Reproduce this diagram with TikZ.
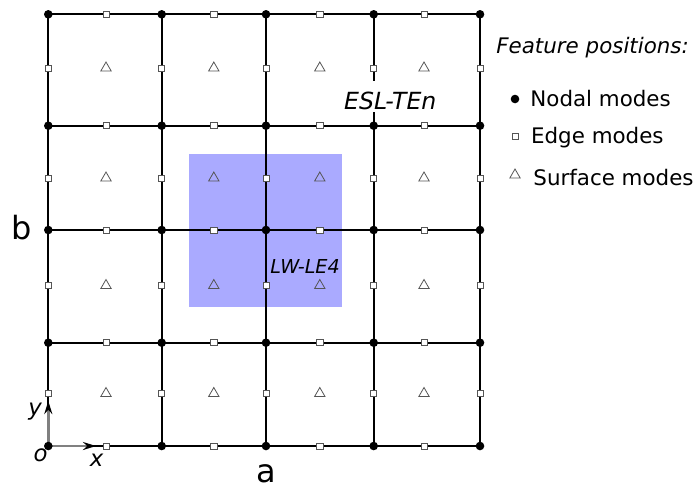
\documentclass[tikz,border=0pt]{standalone}
\usepackage{fontspec}
\setmainfont{DejaVu Sans}
\usetikzlibrary{shapes,arrows.meta}
\definecolor{lwblue}{RGB}{170,170,255}
\definecolor{markgray}{RGB}{85,85,85}

\begin{document}
\begin{tikzpicture}[x=0.5pt,y=-0.5pt]
	\tikzstyle{every node}=[inner sep=0pt]
	\tikzstyle{gridline}=[line width=0.9pt, black]
	\tikzstyle{nodemode}=[circle, fill=black, minimum size=4.3pt]
	\tikzstyle{edgemode}=[rectangle, draw=markgray, fill=white, line width=0.4pt, minimum size=3.1pt]
	\tikzstyle{surfmode}=[regular polygon, regular polygon sides=3, draw=markgray, line width=0.4pt, minimum size=6pt]
	\tikzstyle{axisarrow}=[line width=1.4pt, gray, -{Stealth[black,length=6.5pt,width=4pt]}]
	\tikzstyle{keytext}=[anchor=base west, font=\fontsize{10.7}{12}\selectfont]
	\tikzstyle{sidetext}=[anchor=base, font=\fontsize{16}{18}\selectfont]
	\tikzstyle{axistext}=[anchor=base, font=\fontsize{11.4}{13}\itshape]

	\useasboundingbox (0,0) rectangle (694,489);

	%% grid points
	\coordinate (g00) at (48.3,446.0);
	\coordinate (g10) at (161.7,446.0);
	\coordinate (g20) at (266.0,446.0);
	\coordinate (g30) at (373.7,446.0);
	\coordinate (g40) at (480.0,446.0);
	\coordinate (g01) at (48.3,342.7);
	\coordinate (g11) at (161.7,342.7);
	\coordinate (g21) at (266.0,342.7);
	\coordinate (g31) at (373.7,342.7);
	\coordinate (g41) at (480.0,342.7);
	\coordinate (g02) at (48.3,230.0);
	\coordinate (g12) at (161.7,230.0);
	\coordinate (g22) at (266.0,230.0);
	\coordinate (g32) at (373.7,230.0);
	\coordinate (g42) at (480.0,230.0);
	\coordinate (g03) at (48.3,125.7);
	\coordinate (g13) at (161.7,125.7);
	\coordinate (g23) at (266.0,125.7);
	\coordinate (g33) at (373.7,125.7);
	\coordinate (g43) at (480.0,125.7);
	\coordinate (g04) at (48.3,14.3);
	\coordinate (g14) at (161.7,14.3);
	\coordinate (g24) at (266.0,14.3);
	\coordinate (g34) at (373.7,14.3);
	\coordinate (g44) at (480.0,14.3);

	%% LW-LE4 patch
	\fill [lwblue] (189.0,154.0) rectangle (342.0,306.7);

	%% ESL-TEn grid
	\draw [gridline] (g00) -- (g10) -- (g20) -- (g30) -- (g40);
	\draw [gridline] (g01) -- (g11) -- (g21) -- (g31) -- (g41);
	\draw [gridline] (g02) -- (g12) -- (g22) -- (g32) -- (g42);
	\draw [gridline] (g03) -- (g13) -- (g23) -- (g33) -- (g43);
	\draw [gridline] (g04) -- (g14) -- (g24) -- (g34) -- (g44);
	\draw [gridline] (g00) -- (g01) -- (g02) -- (g03) -- (g04);
	\draw [gridline] (g10) -- (g11) -- (g12) -- (g13) -- (g14);
	\draw [gridline] (g20) -- (g21) -- (g22) -- (g23) -- (g24);
	\draw [gridline] (g30) -- (g31) -- (g32) -- (g33) -- (g34);
	\draw [gridline] (g40) -- (g41) -- (g42) -- (g43) -- (g44);

	%% axes
	\coordinate (xtip) at (96.0,446.0);
	\coordinate (ytip) at (48.3,401.0);
	\draw [axisarrow] (g00) -- (xtip);
	\draw [axisarrow] (g00) -- (ytip);

	%% surface modes
	\node [surfmode] (s00) at (106.0,393.5) {};
	\node [surfmode] (s10) at (213.8,393.5) {};
	\node [surfmode] (s20) at (319.8,393.5) {};
	\node [surfmode] (s30) at (424.0,393.5) {};
	\node [surfmode] (s01) at (106.0,285.5) {};
	\node [surfmode] (s11) at (213.8,285.5) {};
	\node [surfmode] (s21) at (319.8,285.5) {};
	\node [surfmode] (s31) at (424.0,285.5) {};
	\node [surfmode] (s02) at (106.0,178.0) {};
	\node [surfmode] (s12) at (213.8,178.0) {};
	\node [surfmode] (s22) at (319.8,178.0) {};
	\node [surfmode] (s32) at (424.0,178.0) {};
	\node [surfmode] (s03) at (106.0,68.0) {};
	\node [surfmode] (s13) at (213.8,68.0) {};
	\node [surfmode] (s23) at (319.8,68.0) {};
	\node [surfmode] (s33) at (424.0,68.0) {};

	%% edge modes, horizontal edges
	\node [edgemode] (h00) at (106.0,446.0) {};
	\node [edgemode] (h10) at (213.8,446.0) {};
	\node [edgemode] (h20) at (319.8,446.0) {};
	\node [edgemode] (h30) at (424.0,446.0) {};
	\node [edgemode] (h01) at (106.0,342.7) {};
	\node [edgemode] (h11) at (213.8,342.7) {};
	\node [edgemode] (h21) at (319.8,342.7) {};
	\node [edgemode] (h31) at (424.0,342.7) {};
	\node [edgemode] (h02) at (106.0,230.0) {};
	\node [edgemode] (h12) at (213.8,230.0) {};
	\node [edgemode] (h22) at (319.8,230.0) {};
	\node [edgemode] (h32) at (424.0,230.0) {};
	\node [edgemode] (h03) at (106.0,125.7) {};
	\node [edgemode] (h13) at (213.8,125.7) {};
	\node [edgemode] (h23) at (319.8,125.7) {};
	\node [edgemode] (h33) at (424.0,125.7) {};
	\node [edgemode] (h04) at (106.0,14.3) {};
	\node [edgemode] (h14) at (213.8,14.3) {};
	\node [edgemode] (h24) at (319.8,14.3) {};
	\node [edgemode] (h34) at (424.0,14.3) {};

	%% edge modes, vertical edges
	\node [edgemode] (v00) at (48.3,393.5) {};
	\node [edgemode] (v10) at (161.7,393.5) {};
	\node [edgemode] (v20) at (266.0,393.5) {};
	\node [edgemode] (v30) at (373.7,393.5) {};
	\node [edgemode] (v40) at (480.0,393.5) {};
	\node [edgemode] (v01) at (48.3,285.5) {};
	\node [edgemode] (v11) at (161.7,285.5) {};
	\node [edgemode] (v21) at (266.0,285.5) {};
	\node [edgemode] (v31) at (373.7,285.5) {};
	\node [edgemode] (v41) at (480.0,285.5) {};
	\node [edgemode] (v02) at (48.3,178.0) {};
	\node [edgemode] (v12) at (161.7,178.0) {};
	\node [edgemode] (v22) at (266.0,178.0) {};
	\node [edgemode] (v32) at (373.7,178.0) {};
	\node [edgemode] (v42) at (480.0,178.0) {};
	\node [edgemode] (v03) at (48.3,68.0) {};
	\node [edgemode] (v13) at (161.7,68.0) {};
	\node [edgemode] (v23) at (266.0,68.0) {};
	\node [edgemode] (v33) at (373.7,68.0) {};
	\node [edgemode] (v43) at (480.0,68.0) {};

	%% nodal modes
	\node [nodemode] (n00) at (g00) {};
	\node [nodemode] (n10) at (g10) {};
	\node [nodemode] (n20) at (g20) {};
	\node [nodemode] (n30) at (g30) {};
	\node [nodemode] (n40) at (g40) {};
	\node [nodemode] (n01) at (g01) {};
	\node [nodemode] (n11) at (g11) {};
	\node [nodemode] (n21) at (g21) {};
	\node [nodemode] (n31) at (g31) {};
	\node [nodemode] (n41) at (g41) {};
	\node [nodemode] (n02) at (g02) {};
	\node [nodemode] (n12) at (g12) {};
	\node [nodemode] (n22) at (g22) {};
	\node [nodemode] (n32) at (g32) {};
	\node [nodemode] (n42) at (g42) {};
	\node [nodemode] (n03) at (g03) {};
	\node [nodemode] (n13) at (g13) {};
	\node [nodemode] (n23) at (g23) {};
	\node [nodemode] (n33) at (g33) {};
	\node [nodemode] (n43) at (g43) {};
	\node [nodemode] (n04) at (g04) {};
	\node [nodemode] (n14) at (g14) {};
	\node [nodemode] (n24) at (g24) {};
	\node [nodemode] (n34) at (g34) {};
	\node [nodemode] (n44) at (g44) {};

	%% labels
	\node [anchor=base west, fill=white, inner xsep=1pt, text height=14pt, text depth=1.4pt, font=\fontsize{11.8}{14}\itshape] (esl) at (341.7,109.3) {ESL-TEn};
	\node [anchor=base west, font=\fontsize{9.6}{11}\itshape] (lwle) at (270.0,273.3) {LW-LE4};
	\node [sidetext] (blabel) at (22.0,239.0) {b};
	\node [sidetext] (alabel) at (266.5,482.5) {a};
	\node [axistext] (olabel) at (40.7,461.5) {o};
	\node [axistext] (xlabel) at (96.7,466.7) {x};
	\node [axistext] (ylabel) at (35.0,415.0) {y};

	%% legend
	\node [keytext, font=\fontsize{10.7}{12}\itshape] (keytitle) at (496.0,53.0) {Feature positions:};
	\node [nodemode] (keynodal) at (515.0,99.0) {};
	\node [keytext] (txtnodal) at (530.0,106.0) {Nodal modes};
	\node [edgemode] (keyedge) at (515.0,136.7) {};
	\node [keytext] (txtedge) at (530.7,143.3) {Edge modes};
	\node [surfmode] (keysurf) at (515.0,175.0) {};
	\node [keytext] (txtsurf) at (533.0,185.0) {Surface modes};

\end{tikzpicture}
\end{document}
